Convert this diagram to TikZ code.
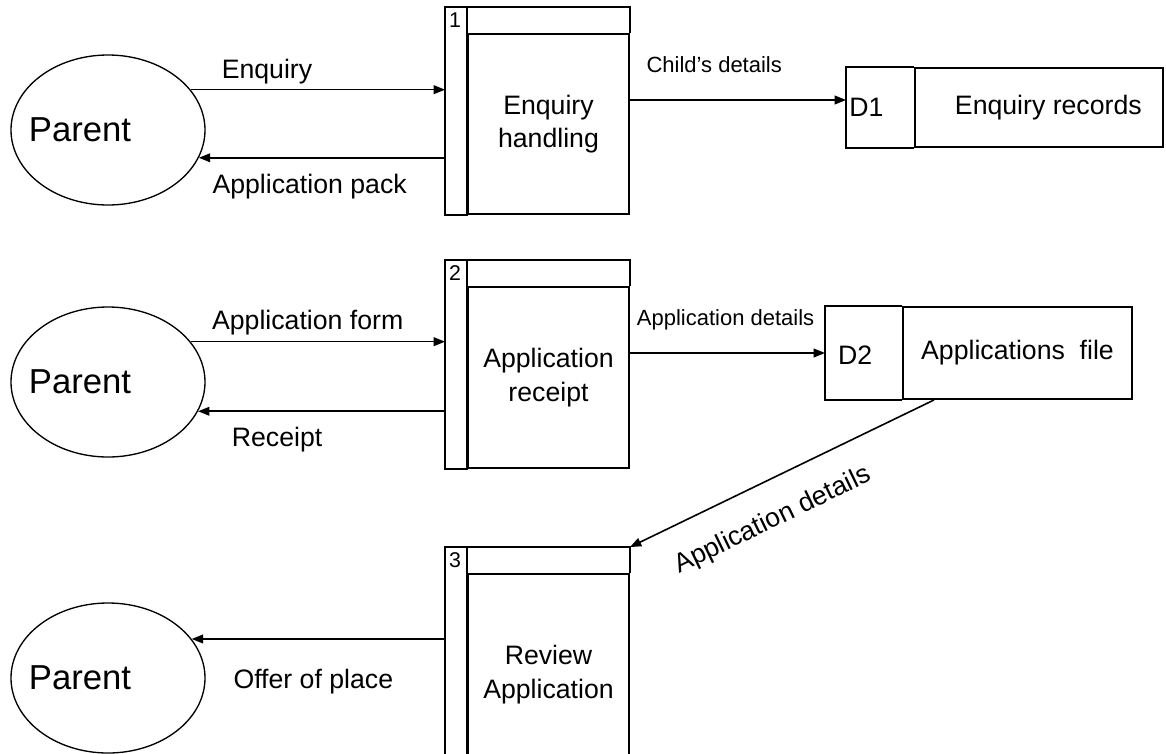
\documentclass[tikz,border=0pt]{standalone}
\usepackage{fontspec}
\setmainfont{Liberation Sans}
\usetikzlibrary{shapes.geometric, arrows.meta, positioning, calc}

\begin{document}
\begin{tikzpicture}[
        x=0.75pt, y=-0.75pt,
        actor/.style={ellipse, draw, line width=1pt, minimum width=145.5pt, minimum height=112.5pt, inner sep=0pt, font=\fontsize{26}{30}\selectfont},
        proc/.style={rectangle, draw, line width=1.4pt, minimum width=120.75pt, align=center, font=\fontsize{20}{25}\selectfont},
        store/.style={rectangle, draw, line width=1.4pt, align=center, font=\fontsize{20}{24}\selectfont},
        tag/.style={inner sep=0pt, font=\fontsize{20}{24}\selectfont},
        num/.style={inner sep=0pt, font=\fontsize{16}{18}\selectfont},
        flowlabel/.style={inner sep=3pt, font=\fontsize{20}{24}\selectfont},
        smalllabel/.style={inner sep=3pt, font=\fontsize{16.5}{20}\selectfont},
        edge/.style={line width=1.4pt},
        flow/.style={-{Triangle[length=8.5pt, width=6.5pt]}, line width=1.2pt}
    ]
        \useasboundingbox (0,0) rectangle (1166,753);

        % external entities
        \node[actor] (par1) at (108,130) {\hspace*{-42pt}Parent};
        \node[actor] (par2) at (108,382) {\hspace*{-42pt}Parent};
        \node[actor] (par3) at (108,678) {\hspace*{-42pt}Parent};

        % processes (body below the header)
        \node[proc, minimum height=135pt] (p1) at (548.5,124) {Enquiry\\handling};
        \node[proc, minimum height=135.75pt] (p2) at (548.5,377.5) {Application\\receipt};
        \node[proc, minimum height=150.75pt] (p3) at (548.5,674.5) {Review\\Application};
        \foreach \p/\n in {p1/1, p2/2, p3/3} {
            \draw[edge] ($(\p.north west)+(-22,-26)$) rectangle (\p.south west);
            \draw[edge] ($(\p.north west)+(0,-26)$) -| (\p.north east);
            \node[num] (n\n) at ($(\p.north west)+(-12,-13)$) {\n};
            \coordinate (\p in) at ($(\p.north west)+(-22,0)$);
            \coordinate (\p top) at ($(\p.north east)+(0,-26)$);
        }

        % data stores
        \node[store, minimum width=186pt, minimum height=59.25pt] (s1) at (1039,107.5) {\hspace*{14pt}Enquiry records};
        \draw[edge] (s1.north west) -- ++(-68,0) |- (s1.south west);
        \node[tag, anchor=west] (d1) at ($(s1.west)+(-65,0)$) {D1};
        \coordinate (s1in) at ($(s1.north west)+(-68,0)$);

        \node[store, minimum width=171.75pt, minimum height=69pt] (s2) at (1017.5,353) {Applications\ \ file};
        \draw[edge] (s2.north west) -- ++(-77,0) |- (s2.south west);
        \node[tag] (d2) at ($(s2.west)+(-47,2)$) {D2};
        \coordinate (s2in) at ($(s2.north west)+(-77,0)$);
        \coordinate (s2out) at ($(s2.south west)+(32,0)$);

        % data flows
        \draw[flow] (par1.26) -- (par1.26 -| p1in) node[flowlabel, above=1pt, pos=0.3] {Enquiry};
        \draw[flow] (par1.343 -| p1in) -- (par1.343) node[flowlabel, below=8.5pt, pos=0.55] {Application pack};
        \coordinate (c1) at ($(p1.east)+(0,-24)$);
        \draw[flow] (c1) -- (c1 -| s1in) node[smalllabel, above=16.5pt, pos=0.39] {Child’s details};

        \draw[flow] (par2.26) -- (par2.26 -| p2in) node[flowlabel, above=1.5pt, pos=0.46] {Application form};
        \draw[flow] (par2.342 -| p2in) -- (par2.342) node[flowlabel, below=8.5pt, pos=0.68] {Receipt};
        \coordinate (c2) at ($(p2.east)+(0,-24.5)$);
        \draw[flow] (c2) -- (c2 -| s2in) node[smalllabel, above=13.8pt, pos=0.49] {Application details};

        \draw[flow] (s2out) -- (p3top) node[flowlabel, sloped, below=16pt, pos=0.585] {Application details};
        \draw[flow] (par3.25 -| p3in) -- (par3.25) node[flowlabel, below=19pt, pos=0.52] {Offer of place};
    \end{tikzpicture}
\end{document}
